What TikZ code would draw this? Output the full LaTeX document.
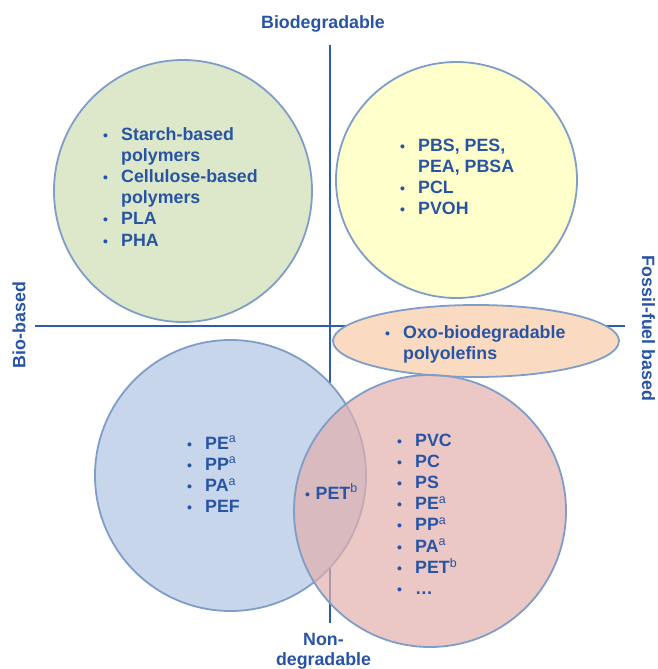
\documentclass[tikz,border=0pt]{standalone}
\usepackage{fontspec}
\setmainfont{Liberation Sans}
\usepackage{array}
\definecolor{txt}{RGB}{40,84,164}
\definecolor{axiscol}{RGB}{47,92,170}
\definecolor{edge}{RGB}{127,157,200}
\definecolor{fgreen}{RGB}{221,232,203}
\definecolor{fyellow}{RGB}{255,255,204}
\definecolor{forange}{RGB}{250,219,194}
\definecolor{fblue}{RGB}{199,214,234}
\definecolor{fpink}{RGB}{226,175,174}
\newcommand{\bu}{{\fontsize{14}{14}\selectfont\textbullet}}
\newcommand{\supa}{\textsuperscript{\mdseries a}}
\newcommand{\supb}{\textsuperscript{\mdseries b}}
\newcommand{\blst}[2]{\begin{tabular}[t]{@{}p{#1}@{}l@{}}#2\end{tabular}}
\tikzset{
  blob/.style={draw=edge, line width=1.8pt},
  axisline/.style={draw=axiscol, line width=2.4pt},
  lst/.style={inner sep=0pt, anchor=base west, text=txt,
    font=\fontsize{17.8}{21.2}\selectfont\bfseries},
  lbl/.style={inner sep=0pt, text=txt, font=\fontsize{17.8}{20}\selectfont\bfseries}
}
\begin{document}
\begin{tikzpicture}[x=1pt,y=-1pt]
\useasboundingbox (0,0) rectangle (657,669);
% axes
\coordinate (vt) at (330,45);
\coordinate (vb) at (330,623);
\coordinate (hl) at (35,326);
\coordinate (hr) at (625,326);
\draw[axisline] (vt) -- (vb);
\draw[axisline] (hl) -- (hr);
% blobs
\draw[blob, fill=fgreen] (183,191) ellipse [x radius=129pt, y radius=131pt];
\draw[blob, fill=fyellow] (456.5,180) ellipse [x radius=120.5pt, y radius=118pt];
\draw[blob, fill=forange] (476,341) ellipse [x radius=143pt, y radius=36pt];
\draw[blob, fill=fblue] (230.5,475.5) circle [radius=135.5pt];
\draw[blob, fill=fpink, fill opacity=0.7] (430,511) circle [radius=136pt];
% lists
\node[lst] (green) at (103,140) {\blst{18pt}{\bu & Starch-based\\ & polymers\\ \bu & Cellulose-based\\ & polymers\\ \bu & PLA\\ \bu & PHA}};
\node[lst] (yellow) at (400,151) {\blst{18pt}{\bu & PBS, PES,\\ & PEA, PBSA\\ \bu & PCL\\ \bu & PVOH}};
\node[lst] (orange) at (385,338) {\blst{18pt}{\bu & Oxo-biodegradable\\ & polyolefins}};
\node[lst] (blue) at (187,449) {\blst{18pt}{\bu & PE\supa\\ \bu & PP\supa\\ \bu & PA\supa\\ \bu & PEF}};
\node[lst] (both) at (305,499) {\blst{10.5pt}{\bu & PET\supb}};
\node[lst] (pink) at (397,446) {\blst{18pt}{\bu & PVC\\ \bu & PC\\ \bu & PS\\ \bu & PE\supa\\ \bu & PP\supa\\ \bu & PA\supa\\ \bu & PET\supb\\ \bu & …}};
% axis labels
\node[lbl, anchor=base] (top) at (323,29) {Biodegradable};
\node[lbl, anchor=base] (bot) at (323.5,645) {\begin{tabular}[t]{@{}c@{}}Non-\\degradable\end{tabular}};
\node[lbl, rotate=90] (left) at (19,325) {Bio-based};
\node[lbl, rotate=-90] (right) at (648.5,328.5) {Fossil-fuel based};
\end{tikzpicture}
\end{document}
